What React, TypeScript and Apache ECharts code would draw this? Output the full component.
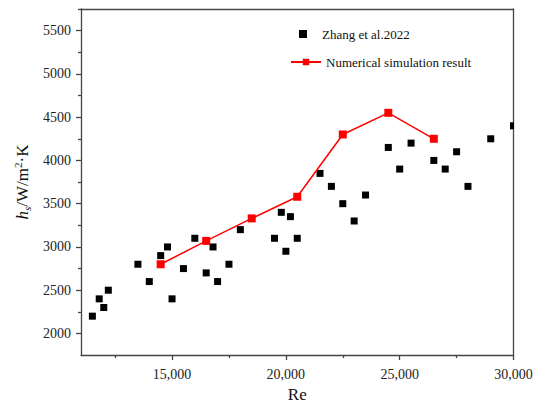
import React, { useEffect, useRef } from "react";
import * as echarts from "echarts";

const zhangRe = [11500, 11800, 12000, 12200, 13500, 14000, 14500, 14800, 15000, 15500, 16000, 16500, 16800, 17000, 17500, 18000, 19500, 19800, 20000, 20200, 20500, 21500, 22000, 22500, 23000, 23500, 24500, 25000, 25500, 26500, 27000, 27500, 28000, 29000, 30000];
const zhangH = [2200, 2400, 2300, 2500, 2800, 2600, 2900, 3000, 2400, 2750, 3100, 2700, 3000, 2600, 2800, 3200, 3100, 3400, 2950, 3350, 3100, 3850, 3700, 3500, 3300, 3600, 4150, 3900, 4200, 4000, 3900, 4100, 3700, 4250, 4400];
const simRe = [14500, 16500, 18500, 20500, 22500, 24500, 26500];
const simH = [2800, 3070, 3330, 3580, 4300, 4550, 4250];
const xMajorTicks = [15000, 20000, 25000, 30000];
const xMinorTicks = [12500, 17500, 22500, 27500];
const yMajorTicks = [2000, 2500, 3000, 3500, 4000, 4500, 5000, 5500];
const yMinorTicks = [2250, 2750, 3250, 3750, 4250, 4750, 5250, 5750];

const FONT = "'Liberation Serif', 'Times New Roman', serif";
const AXIS_COLOR = "#444";
const tickRich = { t: { fontFamily: FONT, fontSize: 14, color: "#222" } };

export default function App() {
  const ref = useRef<HTMLDivElement>(null);
  useEffect(() => {
    if (!ref.current) return;
    const chart = echarts.init(ref.current, undefined, { renderer: "svg" });
    const xBase = { type: "value", min: 11000, max: 30000, splitLine: { show: false } };
    const yBase = { type: "value", min: 1750, max: 5750, splitLine: { show: false } };
    chart.setOption({
      animation: false,
      backgroundColor: "#fff",
      textStyle: { fontFamily: FONT },
      grid: { left: 81, right: 36.5, top: 9, bottom: 51 },
      legend: [
        {
          data: [{ name: "Zhang et al.2022", icon: "rect" }],
          left: 299,
          top: 27.5,
          padding: 0,
          itemWidth: 8,
          itemHeight: 8,
          textStyle: { fontFamily: FONT, fontSize: 13, color: "#111", padding: [0, 0, 0, 10] },
        },
        {
          data: [{ name: "Numerical simulation result" }],
          left: 290,
          top: 55.5,
          padding: 0,
          itemWidth: 30,
          itemHeight: 8,
          textStyle: { fontFamily: FONT, fontSize: 13, color: "#111" },
        },
      ],
      xAxis: [
        {
          ...xBase,
          position: "bottom",
          name: "Re",
          nameLocation: "middle",
          nameGap: 30,
          nameTextStyle: { fontFamily: FONT, fontSize: 17, color: "#111" },
          axisLine: { show: true, lineStyle: { color: AXIS_COLOR, width: 1.3 } },
          axisTick: { show: true, length: 5, customValues: xMajorTicks, lineStyle: { color: AXIS_COLOR, width: 1.3 } },
          axisLabel: {
            customValues: xMajorTicks,
            margin: 12,
            fontFamily: FONT,
            fontSize: 14,
            color: "#222",
            rich: tickRich,
            formatter: (v: number) => "{t|" + v.toLocaleString("en-US") + "}",
          },
        },
        {
          ...xBase,
          position: "bottom",
          axisLine: { show: false },
          axisTick: { show: true, length: 3, customValues: xMinorTicks, lineStyle: { color: AXIS_COLOR, width: 1.3 } },
          axisLabel: { show: false },
        },
        {
          ...xBase,
          position: "top",
          axisLine: { show: true, lineStyle: { color: AXIS_COLOR, width: 1.3 } },
          axisTick: { show: false },
          axisLabel: { show: false },
        },
      ],
      yAxis: [
        {
          ...yBase,
          position: "left",
          name: "{i|h}{sub|s}{n|/W/m}{sup|2}{n|·K}",
          nameLocation: "middle",
          nameGap: 48,
          nameRotate: 90,
          nameTextStyle: {
            fontFamily: FONT,
            color: "#111",
            rich: {
              i: { fontFamily: FONT, fontSize: 17, fontStyle: "italic", lineHeight: 20, color: "#111" },
              n: { fontFamily: FONT, fontSize: 17, lineHeight: 20, color: "#111" },
              sub: { fontFamily: FONT, fontSize: 11, fontStyle: "italic", lineHeight: 10, verticalAlign: "bottom", color: "#111" },
              sup: { fontFamily: FONT, fontSize: 11, lineHeight: 10, verticalAlign: "top", color: "#111" },
            },
          },
          axisLine: { show: true, lineStyle: { color: AXIS_COLOR, width: 1.3 } },
          axisTick: { show: true, length: 5, customValues: yMajorTicks, lineStyle: { color: AXIS_COLOR, width: 1.3 } },
          axisLabel: {
            customValues: yMajorTicks,
            margin: 10,
            fontFamily: FONT,
            fontSize: 14,
            color: "#222",
            rich: tickRich,
            formatter: (v: number) => "{t|" + String(v) + "}",
          },
        },
        {
          ...yBase,
          position: "left",
          axisLine: { show: false },
          axisTick: { show: true, length: 3, customValues: yMinorTicks, lineStyle: { color: AXIS_COLOR, width: 1.3 } },
          axisLabel: { show: false },
        },
        {
          ...yBase,
          position: "right",
          axisLine: { show: true, lineStyle: { color: AXIS_COLOR, width: 1.3 } },
          axisTick: { show: false },
          axisLabel: { show: false },
        },
      ],
      series: [
        {
          type: "custom",
          name: "Zhang et al.2022",
          xAxisIndex: 0,
          yAxisIndex: 0,
          clip: true,
          itemStyle: { color: "#000" },
          encode: { x: 0, y: 1 },
          data: zhangRe.map((x, i) => [x, zhangH[i]]),
          renderItem: (params: any, api: any) => {
            const p = api.coord([api.value(0), api.value(1)]);
            return {
              type: "rect",
              shape: { x: p[0] - 3.5, y: p[1] - 3.5, width: 7, height: 7 },
              style: { fill: "#000" },
            };
          },
        },
        {
          type: "line",
          name: "Numerical simulation result",
          xAxisIndex: 0,
          yAxisIndex: 0,
          data: simRe.map((x, i) => [x, simH[i]]),
          symbol: "rect",
          symbolSize: 8,
          lineStyle: { color: "#ff0000", width: 1.5 },
          itemStyle: { color: "#ff0000" },
        },
      ],
    });
    return () => chart.dispose();
  }, []);
  return <div ref={ref} style={{ position: "fixed", left: 0, top: 0, width: 550, height: 408 }} />;
}
